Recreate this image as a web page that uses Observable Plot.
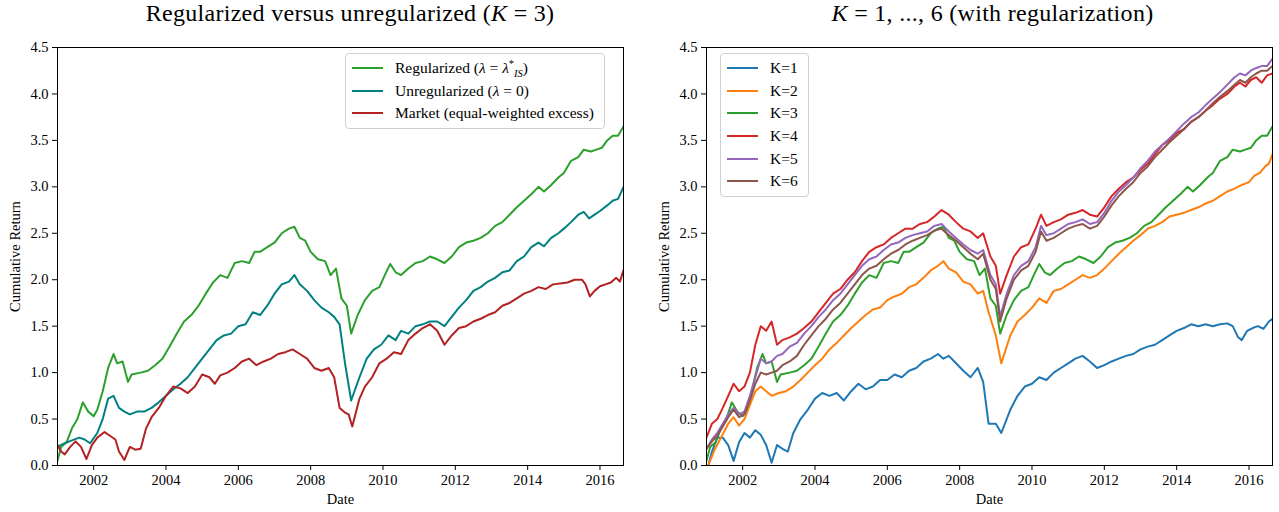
<!DOCTYPE html>
<html>
<head>
<meta charset="utf-8">
<script src="https://cdn.jsdelivr.net/npm/d3@7"></script>
<script src="https://cdn.jsdelivr.net/npm/@observablehq/plot@0.6"></script>
<style>
  html, body { margin: 0; padding: 0; background: #fff; }
  body { width: 1279px; height: 512px; overflow: hidden; font-family: "Liberation Serif", "DejaVu Serif", serif; }
  #row { display: flex; flex-direction: row; }
  .panel { position: relative; }
  .title { height: 30px; line-height: 26px; font-size: 24px; letter-spacing: 0.3px; text-align: center; color: #000; white-space: nowrap; }
  .legend { position: absolute; background: rgba(255,255,255,0.85); border: 1px solid #d0d0d0; border-radius: 4px; font-size: 15.5px; color: #000; padding: 3px 10px 3px 6px; }
  .legend .item { display: flex; align-items: center; height: 22.6px; white-space: nowrap; }
  .legend .swatch { display: inline-block; width: 31px; height: 2px; margin-right: 12px; }
  sup, sub { font-size: 10.5px; line-height: 0; }
</style>
</head>
<body>
<div id="row">
  <div class="panel" id="p1">
    <div class="title" style="padding-left:60px">Regularized versus unregularized (<i>K</i> = 3)</div>
  </div>
  <div class="panel" id="p2">
    <div class="title" style="padding-left:66px"><i>K</i> = 1, ..., 6 (with regularization)</div>
  </div>
</div>
<script>
// ---------- data (decimal year, cumulative return) ----------
const regularized = [
  [2001.0,0.05],[2001.1,0.2],[2001.25,0.25],[2001.4,0.4],[2001.55,0.5],[2001.7,0.68],[2001.85,0.58],[2002.0,0.53],[2002.1,0.6],
  [2002.25,0.8],[2002.4,1.05],[2002.55,1.2],[2002.65,1.1],[2002.8,1.12],[2002.95,0.9],[2003.05,0.98],[2003.3,1.0],[2003.5,1.02],
  [2003.7,1.08],[2003.9,1.15],[2004.1,1.28],[2004.3,1.42],[2004.5,1.55],[2004.7,1.62],[2004.9,1.72],[2005.1,1.85],[2005.3,1.97],
  [2005.5,2.05],[2005.7,2.02],[2005.9,2.18],[2006.1,2.2],[2006.3,2.18],[2006.45,2.3],[2006.6,2.3],[2006.8,2.35],[2007.0,2.4],
  [2007.2,2.5],[2007.4,2.55],[2007.55,2.57],[2007.7,2.45],[2007.85,2.42],[2008.0,2.3],[2008.2,2.22],[2008.4,2.2],[2008.55,2.05],
  [2008.7,2.12],[2008.85,1.8],[2009.0,1.72],[2009.12,1.42],[2009.3,1.62],[2009.5,1.78],[2009.7,1.88],[2009.9,1.92],[2010.05,2.05],
  [2010.2,2.17],[2010.35,2.08],[2010.5,2.05],[2010.7,2.12],[2010.9,2.18],[2011.1,2.2],[2011.3,2.25],[2011.5,2.22],[2011.7,2.18],
  [2011.9,2.25],[2012.1,2.35],[2012.3,2.4],[2012.5,2.42],[2012.7,2.45],[2012.9,2.5],[2013.1,2.58],[2013.3,2.62],[2013.5,2.7],
  [2013.7,2.78],[2013.9,2.85],[2014.1,2.92],[2014.3,3.0],[2014.45,2.95],[2014.65,3.02],[2014.85,3.1],[2015.0,3.15],[2015.2,3.28],
  [2015.4,3.32],[2015.55,3.4],[2015.75,3.38],[2015.9,3.4],[2016.05,3.42],[2016.2,3.5],[2016.35,3.55],[2016.5,3.55],[2016.65,3.65]
];
const unregularized = [
  [2001.0,0.2],[2001.2,0.24],[2001.4,0.27],[2001.6,0.3],[2001.75,0.28],[2001.9,0.24],[2002.1,0.35],[2002.25,0.5],[2002.4,0.72],
  [2002.55,0.75],[2002.7,0.62],[2002.85,0.58],[2003.0,0.55],[2003.2,0.58],[2003.4,0.58],[2003.6,0.62],[2003.8,0.68],[2004.0,0.75],
  [2004.2,0.82],[2004.4,0.88],[2004.6,0.95],[2004.8,1.05],[2005.0,1.15],[2005.2,1.25],[2005.4,1.35],[2005.6,1.4],[2005.8,1.42],
  [2006.0,1.5],[2006.2,1.52],[2006.4,1.65],[2006.6,1.62],[2006.8,1.72],[2007.0,1.85],[2007.2,1.95],[2007.4,1.98],[2007.55,2.05],
  [2007.7,1.95],[2007.9,1.88],[2008.1,1.78],[2008.3,1.7],[2008.5,1.65],[2008.65,1.6],[2008.8,1.52],[2008.95,1.1],[2009.12,0.7],
  [2009.35,0.95],[2009.55,1.15],[2009.75,1.25],[2009.95,1.3],[2010.15,1.4],[2010.35,1.35],[2010.5,1.45],[2010.7,1.42],[2010.9,1.5],
  [2011.1,1.52],[2011.3,1.55],[2011.5,1.55],[2011.7,1.5],[2011.9,1.6],[2012.1,1.7],[2012.3,1.78],[2012.5,1.88],[2012.7,1.92],
  [2012.9,1.98],[2013.1,2.02],[2013.3,2.08],[2013.5,2.1],[2013.7,2.2],[2013.9,2.25],[2014.1,2.35],[2014.3,2.4],[2014.45,2.36],
  [2014.65,2.45],[2014.85,2.5],[2015.0,2.55],[2015.2,2.62],[2015.4,2.7],[2015.55,2.73],[2015.7,2.66],[2015.85,2.7],[2016.0,2.74],
  [2016.2,2.8],[2016.35,2.85],[2016.5,2.87],[2016.65,3.0]
];
const market = [
  [2001.0,0.22],[2001.1,0.15],[2001.2,0.12],[2001.35,0.2],[2001.5,0.26],[2001.65,0.2],[2001.8,0.07],[2001.95,0.22],[2002.1,0.3],
  [2002.3,0.36],[2002.45,0.32],[2002.6,0.28],[2002.7,0.15],[2002.85,0.06],[2003.0,0.2],[2003.15,0.17],[2003.3,0.18],[2003.45,0.4],
  [2003.6,0.52],[2003.8,0.62],[2004.0,0.75],[2004.2,0.85],[2004.4,0.83],[2004.6,0.78],[2004.8,0.85],[2005.0,0.98],[2005.2,0.95],
  [2005.35,0.88],[2005.5,0.97],[2005.7,1.0],[2005.9,1.05],[2006.1,1.12],[2006.3,1.15],[2006.5,1.08],[2006.7,1.12],[2006.9,1.15],
  [2007.1,1.2],[2007.3,1.22],[2007.5,1.25],[2007.7,1.2],[2007.9,1.15],[2008.1,1.05],[2008.3,1.02],[2008.5,1.05],[2008.65,0.95],
  [2008.8,0.62],[2008.95,0.57],[2009.05,0.55],[2009.15,0.42],[2009.35,0.72],[2009.5,0.85],[2009.7,0.95],[2009.9,1.1],[2010.1,1.15],
  [2010.3,1.22],[2010.5,1.2],[2010.7,1.35],[2010.9,1.42],[2011.1,1.48],[2011.3,1.52],[2011.5,1.45],[2011.7,1.3],[2011.9,1.4],
  [2012.1,1.48],[2012.3,1.5],[2012.5,1.55],[2012.7,1.58],[2012.9,1.62],[2013.1,1.65],[2013.3,1.72],[2013.5,1.75],[2013.7,1.8],
  [2013.9,1.85],[2014.1,1.88],[2014.3,1.92],[2014.5,1.9],[2014.7,1.95],[2014.9,1.96],[2015.1,1.97],[2015.3,2.0],[2015.5,2.0],
  [2015.6,1.95],[2015.72,1.82],[2015.85,1.88],[2016.0,1.93],[2016.15,1.95],[2016.3,1.97],[2016.45,2.02],[2016.55,1.98],[2016.65,2.1]
];
const k1 = [
  [2001.05,0.0],[2001.15,0.15],[2001.3,0.3],[2001.45,0.3],[2001.6,0.22],[2001.75,0.05],[2001.9,0.25],[2002.05,0.35],[2002.2,0.3],
  [2002.35,0.38],[2002.5,0.33],[2002.65,0.22],[2002.8,0.03],[2002.95,0.22],[2003.1,0.18],[2003.25,0.15],[2003.4,0.35],[2003.6,0.5],
  [2003.8,0.6],[2004.0,0.72],[2004.2,0.78],[2004.4,0.75],[2004.6,0.78],[2004.8,0.7],[2005.0,0.8],[2005.2,0.88],[2005.4,0.82],
  [2005.6,0.85],[2005.8,0.92],[2006.0,0.92],[2006.2,0.98],[2006.4,0.95],[2006.6,1.02],[2006.8,1.05],[2007.0,1.12],[2007.2,1.15],
  [2007.4,1.2],[2007.55,1.15],[2007.7,1.18],[2007.9,1.1],[2008.1,1.02],[2008.3,0.95],[2008.5,1.05],[2008.65,0.9],[2008.8,0.45],
  [2009.0,0.45],[2009.15,0.35],[2009.4,0.6],[2009.6,0.75],[2009.8,0.85],[2010.0,0.88],[2010.2,0.95],[2010.4,0.92],[2010.6,1.0],
  [2010.8,1.05],[2011.0,1.1],[2011.2,1.15],[2011.4,1.18],[2011.6,1.12],[2011.8,1.05],[2012.0,1.08],[2012.2,1.12],[2012.4,1.15],
  [2012.6,1.18],[2012.8,1.2],[2013.0,1.25],[2013.2,1.28],[2013.4,1.3],[2013.6,1.35],[2013.8,1.4],[2014.0,1.45],[2014.2,1.48],
  [2014.4,1.52],[2014.6,1.5],[2014.8,1.52],[2015.0,1.5],[2015.2,1.52],[2015.4,1.53],[2015.55,1.5],[2015.7,1.38],[2015.8,1.35],
  [2015.95,1.45],[2016.1,1.48],[2016.25,1.5],[2016.4,1.47],[2016.55,1.55],[2016.65,1.58]
];
const k2 = [
  [2001.05,0.0],[2001.2,0.15],[2001.4,0.3],[2001.6,0.45],[2001.75,0.52],[2001.9,0.43],[2002.05,0.5],[2002.2,0.65],[2002.35,0.8],
  [2002.5,0.85],[2002.65,0.8],[2002.8,0.75],[2003.0,0.78],[2003.2,0.8],[2003.4,0.85],[2003.6,0.92],[2003.8,1.0],[2004.0,1.08],
  [2004.2,1.15],[2004.4,1.25],[2004.6,1.32],[2004.8,1.4],[2005.0,1.48],[2005.2,1.55],[2005.4,1.62],[2005.6,1.68],[2005.8,1.7],
  [2006.0,1.78],[2006.2,1.82],[2006.4,1.85],[2006.6,1.92],[2006.8,1.95],[2007.0,2.02],[2007.2,2.1],[2007.4,2.15],[2007.55,2.2],
  [2007.7,2.12],[2007.9,2.08],[2008.1,1.98],[2008.3,1.95],[2008.5,1.85],[2008.65,1.88],[2008.8,1.65],[2009.0,1.4],[2009.15,1.1],
  [2009.4,1.4],[2009.6,1.55],[2009.8,1.62],[2010.0,1.7],[2010.2,1.8],[2010.4,1.75],[2010.6,1.88],[2010.8,1.9],[2011.0,1.95],
  [2011.2,2.0],[2011.4,2.05],[2011.6,2.02],[2011.8,2.05],[2012.0,2.12],[2012.2,2.2],[2012.4,2.28],[2012.6,2.35],[2012.8,2.42],
  [2013.0,2.48],[2013.2,2.55],[2013.4,2.58],[2013.6,2.62],[2013.8,2.68],[2014.0,2.7],[2014.2,2.72],[2014.4,2.75],[2014.6,2.78],
  [2014.8,2.82],[2015.0,2.85],[2015.2,2.9],[2015.4,2.95],[2015.6,2.98],[2015.8,3.02],[2016.0,3.05],[2016.15,3.12],[2016.3,3.15],
  [2016.45,3.22],[2016.55,3.25],[2016.65,3.35]
];
const k3 = regularized;
const k4 = [
  [2001.0,0.3],[2001.15,0.45],[2001.3,0.5],[2001.45,0.62],[2001.6,0.75],[2001.75,0.88],[2001.9,0.8],[2002.05,0.85],[2002.2,1.0],
  [2002.35,1.3],[2002.5,1.5],[2002.65,1.45],[2002.8,1.55],[2002.95,1.3],[2003.1,1.35],[2003.3,1.38],[2003.5,1.42],[2003.7,1.48],
  [2003.9,1.55],[2004.1,1.65],[2004.3,1.75],[2004.5,1.85],[2004.7,1.9],[2004.9,2.0],[2005.1,2.08],[2005.3,2.2],[2005.5,2.3],
  [2005.7,2.35],[2005.9,2.38],[2006.1,2.45],[2006.3,2.5],[2006.5,2.55],[2006.7,2.55],[2006.9,2.6],[2007.1,2.62],[2007.3,2.68],
  [2007.5,2.75],[2007.7,2.7],[2007.9,2.62],[2008.1,2.55],[2008.3,2.52],[2008.5,2.45],[2008.65,2.5],[2008.85,2.25],[2009.0,2.15],
  [2009.12,1.85],[2009.3,2.05],[2009.5,2.25],[2009.7,2.35],[2009.9,2.38],[2010.1,2.55],[2010.25,2.7],[2010.4,2.58],[2010.6,2.62],
  [2010.8,2.65],[2011.0,2.7],[2011.2,2.72],[2011.4,2.75],[2011.6,2.7],[2011.8,2.68],[2012.0,2.78],[2012.2,2.9],[2012.4,2.98],
  [2012.6,3.05],[2012.8,3.1],[2013.0,3.18],[2013.2,3.25],[2013.4,3.35],[2013.6,3.45],[2013.8,3.5],[2014.0,3.58],[2014.2,3.62],
  [2014.4,3.7],[2014.6,3.75],[2014.8,3.82],[2015.0,3.88],[2015.2,3.95],[2015.4,4.0],[2015.6,4.08],[2015.75,4.12],[2015.9,4.08],
  [2016.05,4.15],[2016.2,4.18],[2016.35,4.12],[2016.5,4.2],[2016.65,4.22]
];
const k5 = [
  [2001.0,0.18],[2001.15,0.28],[2001.3,0.35],[2001.45,0.45],[2001.6,0.55],[2001.75,0.62],[2001.9,0.55],[2002.05,0.58],[2002.2,0.75],
  [2002.35,0.95],[2002.5,1.15],[2002.65,1.1],[2002.8,1.12],[2002.95,1.18],[2003.1,1.2],[2003.3,1.28],[2003.5,1.32],[2003.7,1.42],
  [2003.9,1.5],[2004.1,1.6],[2004.3,1.68],[2004.5,1.78],[2004.7,1.85],[2004.9,1.95],[2005.1,2.05],[2005.3,2.15],[2005.5,2.22],
  [2005.7,2.25],[2005.9,2.32],[2006.1,2.38],[2006.3,2.4],[2006.5,2.45],[2006.7,2.48],[2006.9,2.5],[2007.1,2.52],[2007.3,2.58],
  [2007.5,2.6],[2007.7,2.52],[2007.9,2.45],[2008.1,2.38],[2008.3,2.32],[2008.5,2.28],[2008.65,2.32],[2008.85,2.05],[2009.0,1.95],
  [2009.12,1.6],[2009.3,1.85],[2009.5,2.05],[2009.7,2.15],[2009.9,2.2],[2010.1,2.35],[2010.25,2.58],[2010.4,2.48],[2010.6,2.5],
  [2010.8,2.55],[2011.0,2.6],[2011.2,2.62],[2011.4,2.65],[2011.6,2.6],[2011.8,2.62],[2012.0,2.72],[2012.2,2.85],[2012.4,2.95],
  [2012.6,3.02],[2012.8,3.1],[2013.0,3.2],[2013.2,3.28],[2013.4,3.38],[2013.6,3.45],[2013.8,3.52],[2014.0,3.6],[2014.2,3.68],
  [2014.4,3.75],[2014.6,3.8],[2014.8,3.88],[2015.0,3.95],[2015.2,4.02],[2015.4,4.1],[2015.6,4.18],[2015.75,4.22],[2015.9,4.2],
  [2016.05,4.25],[2016.2,4.28],[2016.35,4.3],[2016.5,4.3],[2016.65,4.38]
];
const k6 = [
  [2001.0,0.18],[2001.15,0.26],[2001.3,0.32],[2001.45,0.42],[2001.6,0.52],[2001.75,0.6],[2001.9,0.52],[2002.05,0.55],[2002.2,0.7],
  [2002.35,0.88],[2002.5,1.0],[2002.65,0.98],[2002.8,1.0],[2002.95,1.02],[2003.1,1.08],[2003.3,1.12],[2003.5,1.18],[2003.7,1.3],
  [2003.9,1.4],[2004.1,1.5],[2004.3,1.58],[2004.5,1.68],[2004.7,1.75],[2004.9,1.85],[2005.1,1.95],[2005.3,2.05],[2005.5,2.12],
  [2005.7,2.15],[2005.9,2.22],[2006.1,2.28],[2006.3,2.32],[2006.5,2.38],[2006.7,2.42],[2006.9,2.45],[2007.1,2.48],[2007.3,2.53],
  [2007.5,2.55],[2007.7,2.48],[2007.9,2.42],[2008.1,2.35],[2008.3,2.28],[2008.5,2.22],[2008.65,2.28],[2008.85,2.0],[2009.0,1.9],
  [2009.12,1.55],[2009.3,1.8],[2009.5,2.0],[2009.7,2.1],[2009.9,2.15],[2010.1,2.3],[2010.25,2.52],[2010.4,2.42],[2010.6,2.45],
  [2010.8,2.5],[2011.0,2.55],[2011.2,2.58],[2011.4,2.6],[2011.6,2.55],[2011.8,2.58],[2012.0,2.68],[2012.2,2.8],[2012.4,2.9],
  [2012.6,2.98],[2012.8,3.05],[2013.0,3.15],[2013.2,3.22],[2013.4,3.32],[2013.6,3.4],[2013.8,3.48],[2014.0,3.55],[2014.2,3.62],
  [2014.4,3.7],[2014.6,3.75],[2014.8,3.82],[2015.0,3.9],[2015.2,3.97],[2015.4,4.03],[2015.6,4.1],[2015.75,4.15],[2015.9,4.12],
  [2016.05,4.18],[2016.2,4.22],[2016.35,4.25],[2016.5,4.25],[2016.65,4.3]
];

const leftSeries = [
  {name: "Regularized", data: regularized, color: "#2ca02c"},
  {name: "Unregularized", data: unregularized, color: "#008080"},
  {name: "Market", data: market, color: "#b22222"}
];
const rightSeries = [
  {name: "K=1", data: k1, color: "#1f77b4"},
  {name: "K=2", data: k2, color: "#ff7f0e"},
  {name: "K=3", data: k3, color: "#2ca02c"},
  {name: "K=4", data: k4, color: "#d62728"},
  {name: "K=5", data: k5, color: "#9467bd"},
  {name: "K=6", data: k6, color: "#8c564b"}
];
const yTicks = [0, 0.5, 1, 1.5, 2, 2.5, 3, 3.5, 4, 4.5];
const xTicks = [2002, 2004, 2006, 2008, 2010, 2012, 2014, 2016];
const xDomain = [2001.0, 2016.65];
const yDomain = [0, 4.5];

function makePlot(series, width, marginLeft, marginRight) {
  return Plot.plot({
    width, height: 482,
    marginTop: 17, marginBottom: 47, marginLeft, marginRight,
    style: {fontFamily: "'Liberation Serif', 'DejaVu Serif', serif", fontSize: "14.5px", color: "#000", background: "transparent"},
    x: {domain: xDomain},
    y: {domain: yDomain},
    marks: [
      Plot.axisY({ticks: yTicks, tickFormat: d => d.toFixed(1), tickSize: 5, tickPadding: 4, fontSize: 14.5,
        label: "Cumulative Return", labelAnchor: "center", labelArrow: "none", labelOffset: 48}),
      Plot.axisX({ticks: xTicks, tickFormat: d => String(d), tickSize: 5, tickPadding: 4, fontSize: 14.5,
        label: "Date", labelAnchor: "center", labelArrow: "none", labelOffset: 38}),
      ...series.map(s => Plot.line(s.data, {x: d => d[0], y: d => d[1], stroke: s.color, strokeWidth: 2, clip: true})),
      Plot.frame({stroke: "#000", strokeWidth: 1})
    ]
  });
}

const p1 = document.getElementById("p1");
const p2 = document.getElementById("p2");
p1.style.width = "640px";
p2.style.width = "639px";
p1.appendChild(makePlot(leftSeries, 640, 57, 17));
p2.appendChild(makePlot(rightSeries, 639, 66, 7));

function addLegend(panel, items, left, top) {
  const box = document.createElement("div");
  box.className = "legend";
  box.style.left = left + "px";
  box.style.top = top + "px";
  for (const it of items) {
    const row = document.createElement("div");
    row.className = "item";
    const sw = document.createElement("span");
    sw.className = "swatch";
    sw.style.background = it.color;
    const tx = document.createElement("span");
    tx.innerHTML = it.label;
    row.appendChild(sw); row.appendChild(tx);
    box.appendChild(row);
  }
  panel.appendChild(box);
}
addLegend(p1, [
  {color: leftSeries[0].color, label: "Regularized (<i>λ</i> = <i>λ</i><sup>*</sup><sub><i>IS</i></sub>)"},
  {color: leftSeries[1].color, label: "Unregularized (<i>λ</i> = 0)"},
  {color: leftSeries[2].color, label: "Market (equal-weighted excess)"}
], 345, 53);
addLegend(p2, rightSeries.map(s => ({color: s.color, label: s.name})), 80, 53);
</script>
</body>
</html>
